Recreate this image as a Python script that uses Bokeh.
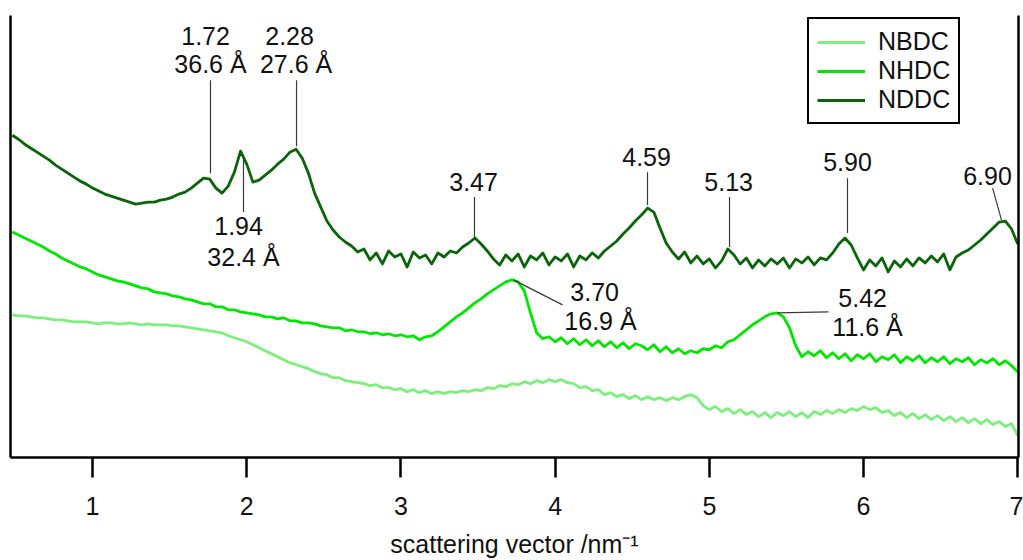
from bokeh.plotting import figure
from bokeh.models import Range1d, LinearAxis, FixedTicker, Legend, LegendItem, ColumnDataSource
from bokeh.core.properties import value
from bokeh.embed import file_html
from bokeh.resources import INLINE

# scattering vector grid (nm^-1)
q = [round(0.48 + 0.04 * i, 2) for i in range(164)]

# intensities (arbitrary units, curves offset for clarity)
nbdc = [143, 142, 142, 141, 140, 140, 139, 138, 138, 137, 136, 136, 136, 135, 134, 135, 135, 134, 134, 135,
        134, 133, 134, 133, 133, 133, 132, 132, 131, 130, 129, 128, 127, 126, 125, 122, 120, 118, 116, 113,
        110, 107, 104, 101, 98, 95, 93, 91, 89, 86, 84, 83, 80, 80, 77, 76, 75, 74, 72, 73,
        70, 70, 68, 69, 66, 68, 65, 67, 64, 66, 64, 66, 65, 67, 66, 68, 67, 70, 69, 72,
        71, 74, 73, 76, 74, 77, 75, 78, 76, 78, 75, 74, 70, 71, 67, 68, 63, 65, 61, 63,
        59, 62, 58, 61, 58, 60, 57, 60, 58, 61, 63, 60, 52, 48, 51, 46, 49, 44, 48, 43,
        46, 41, 45, 40, 45, 42, 46, 41, 45, 40, 46, 43, 47, 44, 48, 45, 49, 47, 51, 48,
        50, 45, 47, 42, 45, 40, 44, 39, 43, 38, 42, 37, 41, 36, 40, 35, 39, 34, 38, 33,
        36, 31, 34, 22]

nhdc = [226, 223, 220, 217, 214, 211, 207, 204, 200, 197, 194, 191, 189, 186, 183, 181, 179, 177, 176, 174,
        172, 170, 169, 166, 165, 164, 162, 161, 159, 158, 156, 154, 154, 151, 151, 148, 148, 146, 145, 144,
        143, 141, 141, 139, 140, 137, 137, 135, 135, 134, 132, 131, 130, 130, 127, 128, 126, 126, 124, 125,
        123, 124, 122, 123, 121, 122, 118, 121, 122, 126, 131, 136, 141, 145, 150, 155, 159, 164, 168, 172,
        176, 178, 176, 167, 145, 125, 119, 121, 116, 120, 114, 119, 113, 118, 112, 117, 111, 116, 110, 115,
        109, 114, 112, 108, 113, 106, 111, 105, 109, 104, 107, 105, 109, 108, 112, 110, 116, 118, 123, 128,
        133, 137, 141, 144, 145, 141, 130, 112, 101, 106, 102, 107, 100, 105, 99, 104, 97, 103, 99, 104,
        96, 101, 98, 103, 95, 101, 97, 102, 95, 100, 96, 101, 94, 99, 96, 100, 93, 98, 95, 99,
        93, 97, 92, 86]

nddc = [323, 319, 314, 310, 306, 302, 298, 293, 289, 285, 281, 277, 274, 270, 267, 264, 262, 260, 258, 256,
        254, 255, 256, 256, 258, 259, 261, 264, 266, 270, 275, 280, 279, 270, 265, 272, 286, 307, 294, 276,
        278, 283, 288, 294, 299, 306, 309, 300, 285, 265, 251, 237, 228, 221, 216, 212, 206, 209, 198, 205,
        194, 207, 201, 204, 191, 206, 200, 203, 194, 205, 201, 207, 205, 211, 215, 220, 214, 207, 199, 193,
        203, 197, 204, 191, 202, 198, 205, 193, 201, 197, 204, 191, 202, 198, 205, 200, 207, 212, 217, 224,
        230, 237, 243, 250, 246, 230, 215, 206, 199, 206, 195, 202, 194, 199, 190, 197, 209, 203, 194, 200,
        190, 198, 192, 199, 194, 200, 190, 199, 195, 201, 193, 200, 198, 205, 214, 220, 213, 200, 188, 198,
        192, 200, 186, 197, 191, 199, 192, 200, 195, 202, 196, 204, 188, 201, 205, 208, 213, 218, 224, 230,
        236, 237, 229, 214]

series_names = ["NBDC", "NHDC", "NDDC"]
series_colors = ["#7cf07c", "#00e800", "#0a640a"]

# peak annotations
ann_text = ["1.72", "36.6 Å", "2.28", "27.6 Å", "1.94", "32.4 Å", "3.47", "4.59", "5.13", "5.90",
            "6.90", "3.70", "16.9 Å", "5.42", "11.6 Å"]
ann_x = [1.733, 1.765, 2.278, 2.320, 1.947, 1.979, 3.471, 4.593, 5.125, 5.896,
         6.804, 4.256, 4.294, 5.994, 6.026]
ann_y = [422, 394, 422, 394, 232, 201, 276, 301, 276, 296, 282, 166, 137, 160, 131]

lead_x0 = [1.765, 2.323, 1.979, 3.477, 4.599, 5.131, 5.896, 6.837, 3.730, 5.442]
lead_y0 = [378, 378, 301, 261, 286, 261, 280, 270, 178, 145]
lead_x1 = [1.765, 2.323, 1.979, 3.477, 4.599, 5.131, 5.896, 6.895, 4.048, 5.773]
lead_y1 = [285, 312, 246, 221, 253, 211, 225, 238, 153, 146]

FONT = "Liberation Sans"

p = figure(width=1023, height=560, x_range=Range1d(0.468, 7.005), y_range=Range1d(0, 443),
           output_backend="svg", toolbar_location=None,
           min_border_left=10, min_border_right=5, min_border_top=15, min_border_bottom=102)
p.outline_line_color = None
p.xgrid.visible = False
p.ygrid.visible = False
p.background_fill_color = "white"

renderers = []
for name, ys, col in zip(series_names, [nbdc, nhdc, nddc], series_colors):
    src = ColumnDataSource(dict(x=q, y=ys))
    r = p.line("x", "y", source=src, line_color=col, line_width=2.8, line_join="round")
    renderers.append(r)

p.segment(x0=lead_x0, y0=lead_y0, x1=lead_x1, y1=lead_y1, line_color="#3a3a3a", line_width=1.2)
p.text(x=ann_x, y=ann_y, text=ann_text, text_font=value(FONT), text_font_size="25px",
       text_align="center", text_baseline="middle", text_color="#111111")

# bottom axis
xa = p.xaxis[0]
xa.ticker = FixedTicker(ticks=[1, 2, 3, 4, 5, 6, 7])
xa.major_tick_out = 20
xa.major_tick_in = 0
xa.minor_tick_line_color = None
xa.axis_line_width = 2.5
xa.axis_line_color = "black"
xa.major_tick_line_width = 2.5
xa.major_tick_line_color = "black"
xa.major_label_text_font = FONT
xa.major_label_text_font_size = "25px"
xa.major_label_text_color = "#111111"
xa.major_label_standoff = 19
xa.axis_label = "scattering vector /nm⁻¹"
xa.axis_label_text_font = FONT
xa.axis_label_text_font_size = "25px"
xa.axis_label_text_font_style = "normal"
xa.axis_label_text_color = "#111111"
xa.axis_label_standoff = 12

def frame_side(ax):
    ax.ticker = FixedTicker(ticks=[])
    ax.major_tick_out = 0
    ax.major_tick_in = 0
    ax.minor_tick_out = 0
    ax.minor_tick_in = 0
    ax.major_label_text_font_size = "0px"
    ax.major_label_standoff = 0
    ax.axis_line_width = 2.5
    ax.axis_line_color = "black"

frame_side(p.yaxis[0])
ra = LinearAxis()
frame_side(ra)
p.add_layout(ra, "right")

legend = Legend(items=[LegendItem(label=n, renderers=[r]) for n, r in zip(series_names, renderers)],
                location=(797, 333))
legend.border_line_color = "black"
legend.border_line_alpha = 1.0
legend.border_line_width = 2
legend.background_fill_alpha = 1.0
legend.label_text_font = FONT
legend.label_text_font_size = "25px"
legend.label_text_color = "#111111"
legend.glyph_width = 48
legend.glyph_height = 28
legend.label_height = 28
legend.spacing = 0
legend.padding = 8
legend.margin = 0
legend.label_standoff = 13
p.add_layout(legend)

open("out.html", "w").write(file_html(p, INLINE))
